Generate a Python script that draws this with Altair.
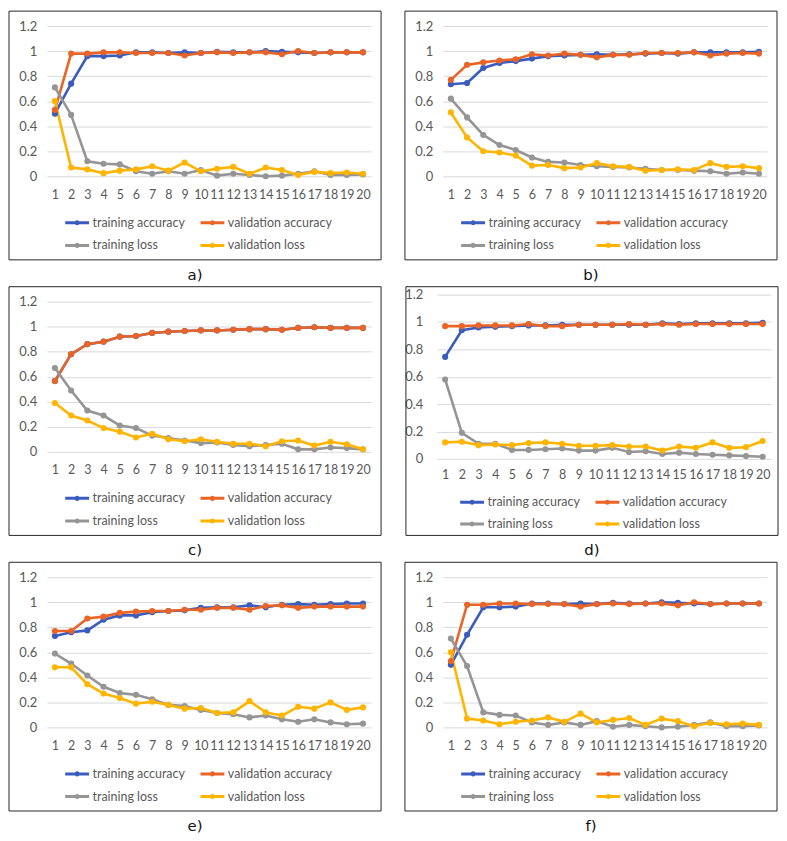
import altair as alt
import pandas as pd

epochs = list(range(1, 21))
series_names = ["training accuracy", "validation accuracy", "training loss", "validation loss"]
series_colors = ["#3A5CBF", "#EA6425", "#959595", "#FFB400"]
y_ticks = [0, 0.2, 0.4, 0.6, 0.8, 1, 1.2]
panel_labels = ["a)", "b)", "c)", "d)", "e)", "f)"]

a_train_acc = [0.50, 0.74, 0.96, 0.96, 0.965, 0.99, 0.99, 0.985, 0.99, 0.985, 0.995, 0.99, 0.99, 1.0, 0.995, 0.99, 0.985, 0.99, 0.99, 0.99]
a_val_acc = [0.53, 0.98, 0.98, 0.99, 0.99, 0.985, 0.985, 0.985, 0.965, 0.985, 0.99, 0.985, 0.99, 0.99, 0.975, 1.0, 0.985, 0.99, 0.99, 0.99]
a_train_loss = [0.71, 0.49, 0.12, 0.10, 0.095, 0.04, 0.02, 0.04, 0.02, 0.05, 0.005, 0.02, 0.01, 0.0, 0.005, 0.02, 0.04, 0.01, 0.01, 0.015]
a_val_loss = [0.60, 0.07, 0.055, 0.025, 0.045, 0.055, 0.08, 0.045, 0.11, 0.04, 0.06, 0.075, 0.02, 0.07, 0.05, 0.01, 0.035, 0.025, 0.03, 0.02]

b_train_acc = [0.735, 0.745, 0.865, 0.905, 0.92, 0.94, 0.96, 0.965, 0.97, 0.975, 0.97, 0.975, 0.98, 0.985, 0.98, 0.99, 0.99, 0.99, 0.99, 0.995]
b_val_acc = [0.77, 0.89, 0.91, 0.925, 0.935, 0.975, 0.965, 0.98, 0.97, 0.95, 0.97, 0.97, 0.985, 0.985, 0.985, 0.99, 0.965, 0.98, 0.985, 0.98]
b_train_loss = [0.62, 0.47, 0.33, 0.25, 0.21, 0.15, 0.115, 0.11, 0.09, 0.08, 0.075, 0.07, 0.06, 0.05, 0.05, 0.045, 0.04, 0.02, 0.03, 0.02]
b_val_loss = [0.51, 0.31, 0.20, 0.19, 0.165, 0.085, 0.09, 0.065, 0.07, 0.105, 0.08, 0.075, 0.045, 0.05, 0.055, 0.05, 0.105, 0.075, 0.08, 0.065]

c_val_acc = [0.565, 0.78, 0.86, 0.88, 0.92, 0.925, 0.95, 0.96, 0.965, 0.97, 0.97, 0.975, 0.98, 0.98, 0.975, 0.99, 0.995, 0.99, 0.99, 0.99]
c_train_acc = list(c_val_acc)
c_train_loss = [0.67, 0.49, 0.33, 0.29, 0.21, 0.19, 0.13, 0.11, 0.09, 0.07, 0.075, 0.055, 0.045, 0.055, 0.065, 0.02, 0.02, 0.035, 0.03, 0.02]
c_val_loss = [0.39, 0.29, 0.25, 0.19, 0.16, 0.115, 0.145, 0.10, 0.085, 0.10, 0.08, 0.065, 0.065, 0.045, 0.085, 0.09, 0.05, 0.08, 0.06, 0.02]

d_train_acc = [0.745, 0.94, 0.96, 0.965, 0.97, 0.975, 0.975, 0.98, 0.98, 0.98, 0.98, 0.98, 0.98, 0.99, 0.985, 0.99, 0.99, 0.99, 0.99, 0.995]
d_val_acc = [0.97, 0.97, 0.975, 0.975, 0.975, 0.985, 0.97, 0.97, 0.98, 0.98, 0.98, 0.985, 0.98, 0.985, 0.98, 0.985, 0.985, 0.985, 0.985, 0.985]
d_train_loss = [0.58, 0.19, 0.11, 0.11, 0.065, 0.065, 0.07, 0.075, 0.06, 0.06, 0.08, 0.05, 0.055, 0.035, 0.045, 0.035, 0.03, 0.025, 0.02, 0.015]
d_val_loss = [0.12, 0.125, 0.10, 0.105, 0.10, 0.115, 0.12, 0.11, 0.095, 0.095, 0.10, 0.09, 0.09, 0.06, 0.09, 0.08, 0.12, 0.08, 0.085, 0.13]

e_train_acc = [0.73, 0.76, 0.775, 0.86, 0.895, 0.895, 0.92, 0.93, 0.935, 0.955, 0.96, 0.96, 0.975, 0.96, 0.98, 0.985, 0.98, 0.985, 0.99, 0.99]
e_val_acc = [0.77, 0.77, 0.87, 0.885, 0.915, 0.925, 0.93, 0.93, 0.94, 0.94, 0.955, 0.955, 0.94, 0.97, 0.975, 0.955, 0.965, 0.965, 0.965, 0.965]
e_train_loss = [0.59, 0.51, 0.415, 0.325, 0.275, 0.26, 0.225, 0.18, 0.17, 0.14, 0.115, 0.105, 0.08, 0.095, 0.065, 0.045, 0.065, 0.04, 0.025, 0.03]
e_val_loss = [0.48, 0.48, 0.345, 0.27, 0.235, 0.19, 0.205, 0.18, 0.15, 0.155, 0.115, 0.12, 0.21, 0.12, 0.095, 0.165, 0.15, 0.20, 0.14, 0.16]

f_train_acc = list(a_train_acc)
f_val_acc = list(a_val_acc)
f_train_loss = list(a_train_loss)
f_val_loss = list(a_val_loss)

panel_values = [
    (a_train_acc, a_val_acc, a_train_loss, a_val_loss),
    (b_train_acc, b_val_acc, b_train_loss, b_val_loss),
    (c_train_acc, c_val_acc, c_train_loss, c_val_loss),
    (d_train_acc, d_val_acc, d_train_loss, d_val_loss),
    (e_train_acc, e_val_acc, e_train_loss, e_val_loss),
    (f_train_acc, f_val_acc, f_train_loss, f_val_loss),
]

FONT = "Lato"
TEXT = "#595959"
LEGEND_SYMBOL = "M-1,0H1M0.09,0A0.09,0.09,0,1,1,-0.09,0A0.09,0.09,0,1,1,0.09,0"

# panel geometry (plot size and frame offsets around the plot area)
STD = dict(W=326, H=151, ytop=0, left=38, right=10, top=15, bottom=84, ylabpad=10,
           xlabpad=12, legx=17, legy=33, rowpad=2)
WIDE = dict(W=336, H=158, ytop=-7, left=31, right=7, top=15, bottom=77, ylabpad=14,
            xlabpad=10, legx=22, legy=30, rowpad=1)
geoms = [STD, STD, STD, WIDE, STD, STD]


def make_panel(label, values, g):
    W, H = g["W"], g["H"]
    rows = []
    for name, vals in zip(series_names, values):
        for e, v in zip(epochs, vals):
            rows.append({"epoch": e, "series": name, "value": v})
    df = pd.DataFrame(rows)
    base = alt.Chart(df)
    x = alt.X("epoch:O", title=None,
              axis=alt.Axis(labelAngle=0, labelOverlap=False, ticks=False, tickSize=0,
                            domain=False, grid=False, labelPadding=g["xlabpad"],
                            labelFontSize=12.5, labelColor=TEXT, labelFont=FONT))
    if g["ytop"] != 0:
        yscale = alt.Scale(domain=[0, 1.2], nice=False, zero=True, range=[H, g["ytop"]])
    else:
        yscale = alt.Scale(domain=[0, 1.2], nice=False, zero=True)
    y = alt.Y("value:Q", title=None, scale=yscale,
              axis=alt.Axis(values=y_ticks, format="~g", ticks=False, tickSize=0, domain=False,
                            grid=True, gridColor="#D9D9D9", gridWidth=1,
                            labelPadding=g["ylabpad"],
                            labelFontSize=13, labelColor=TEXT, labelFont=FONT))
    color = alt.Color("series:N",
                      scale=alt.Scale(domain=series_names, range=series_colors),
                      legend=alt.Legend(title=None, orient="none", direction="horizontal",
                                        legendX=g["legx"], legendY=H + g["legy"],
                                        columns=2, columnPadding=9, rowPadding=g["rowpad"],
                                        symbolType=LEGEND_SYMBOL, symbolSize=576,
                                        symbolStrokeWidth=3, labelOffset=2,
                                        labelFontSize=12.5, labelColor=TEXT, labelFont=FONT,
                                        padding=0))
    lines = base.mark_line(strokeWidth=2.6).encode(x=x, y=y, color=color)
    pts = base.mark_point(filled=True, size=38, opacity=1).encode(x=x, y=y, color=color)
    box = alt.Chart(pd.DataFrame({"k": [0]})).mark_rect(
        filled=False, stroke="#262626", strokeWidth=1
    ).encode(x=alt.value(-g["left"]), x2=alt.value(W + g["right"]),
             y=alt.value(-g["top"]), y2=alt.value(H + g["bottom"]))
    lab = alt.Chart(pd.DataFrame({"t": [label]})).mark_text(
        fontSize=15, baseline="middle", align="center", font="DejaVu Sans", color="#111111"
    ).encode(text="t:N", x=alt.value((W + g["right"] - g["left"]) / 2),
             y=alt.value(H + g["bottom"] + 15))
    return alt.layer(box, lines, pts, lab).properties(width=W, height=H)


panels = [make_panel(l, v, g) for l, v, g in zip(panel_labels, panel_values, geoms)]
rows_ = [
    alt.hconcat(panels[i], panels[i + 1], spacing=22)
    .resolve_scale(color="independent")
    .resolve_legend(color="independent")
    for i in (0, 2, 4)
]
chart = alt.vconcat(*rows_, spacing=2).resolve_scale(color="independent").resolve_legend(
    color="independent"
).properties(padding=0).configure_view(stroke="transparent")

chart.save("out.html", embed_options={"renderer": "svg", "actions": False})
